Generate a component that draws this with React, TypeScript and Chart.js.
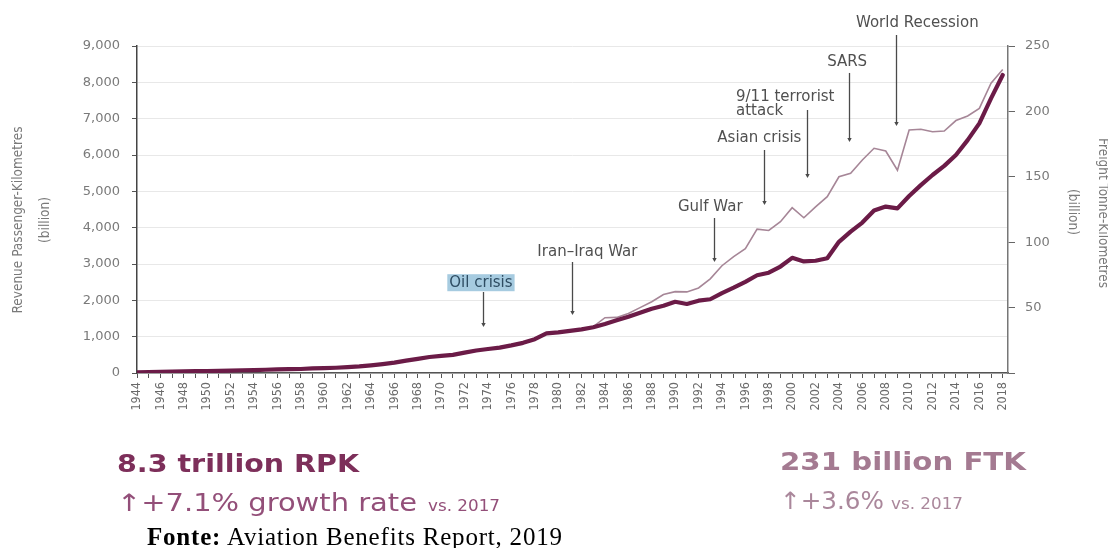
import React, { useEffect, useRef } from 'react';
import { Chart, registerables } from 'chart.js';

Chart.register(...registerables);

// ---------- data ----------
const years: number[] = Array.from({ length: 75 }, (_, i) => 1944 + i);

// Revenue Passenger-Kilometres (billion), left axis
const rpk: number[] = [
  20, 25, 35, 40, 45, 50, 55, 60, 65, 75,
  80, 90, 100, 105, 110, 125, 135, 145, 160, 180,
  210, 245, 285, 340, 390, 440, 470, 500, 560, 620,
  660, 700, 760, 830, 930, 1090, 1120, 1160, 1200, 1260,
  1350, 1450, 1550, 1660, 1770, 1850, 1960, 1900, 1990, 2030,
  2200, 2350, 2510, 2690, 2760, 2930, 3170, 3070, 3090, 3160,
  3610, 3890, 4140, 4470, 4580, 4530, 4870, 5170, 5450, 5700,
  6000, 6410, 6870, 7560, 8200,
];

// Freight Tonne-Kilometres (billion), right axis
const ftk: number[] = [
  0.5, 0.7, 1.0, 1.1, 1.2, 1.4, 1.5, 1.7, 1.8, 2.0,
  2.2, 2.5, 2.7, 2.9, 3.0, 3.4, 3.7, 4.0, 4.5, 5.0,
  5.9, 6.9, 8.0, 9.5, 11.0, 12.4, 13.3, 14.0, 15.8, 17.5,
  18.6, 19.5, 21.2, 23.2, 26.0, 30.5, 31.0, 32.0, 33.0, 35.5,
  42.3, 42.5, 45.5, 50.0, 54.5, 60.0, 62.2, 62.0, 65.0, 72.0,
  82.0, 89.0, 95.0, 110.0, 109.0, 115.7, 126.4, 118.7, 127.0, 134.8,
  150.0, 152.7, 162.8, 171.8, 169.7, 155.0, 185.8, 186.3, 184.5, 185.0,
  193.0, 196.5, 202.3, 221.5, 232.0,
];

// event annotations
const eventLabels: string[] = [
  'Oil crisis', 'Iran–Iraq War', 'Gulf War', 'Asian crisis',
  '9/11 terrorist\nattack', 'SARS', 'World Recession',
];
const eventYears: number[] = [1973.6, 1981.2, 1993.3, 1997.6, 2001.3, 2004.9, 2008.9];

// annotation placement (in axis units)
const labelYears: number[] = [1973.4, 1982.5, 1993.0, 1997.2, 1995.2, 2004.7, 2010.7];
const labelValues: number[] = [2485, 3330, 4570, 6470, 7597, 8560, 9634];
const labelAligns: CanvasTextAlign[] = ['center', 'center', 'center', 'center', 'left', 'center', 'center'];
const arrowTops: number[] = [2230, 3055, 4266, 6138, 7239, 8258, 9303];
const arrowBottoms: number[] = [1266, 1596, 3055, 4624, 5367, 6358, 6799];

const COND = '"DejaVu Sans Condensed", "Liberation Sans Narrow", "DejaVu Sans", sans-serif';
const SANS = '"DejaVu Sans", sans-serif';

export default function App() {
  const ref = useRef<HTMLCanvasElement>(null);

  useEffect(() => {
    const canvas = ref.current;
    if (!canvas) return;

    const annotations = {
      id: 'eventsAndTitles',
      afterDraw(chart: any) {
        const { ctx } = chart;
        const xs = chart.scales.x;
        const ys = chart.scales.y;
        ctx.save();
        eventLabels.forEach((lab, i) => {
          const ax = Math.round(xs.getPixelForValue(eventYears[i])) + 0.5;
          const top = ys.getPixelForValue(arrowTops[i]);
          const bot = ys.getPixelForValue(arrowBottoms[i]);
          ctx.strokeStyle = '#4a4a4a';
          ctx.fillStyle = '#4a4a4a';
          ctx.lineWidth = 1.3;
          ctx.beginPath();
          ctx.moveTo(ax, top);
          ctx.lineTo(ax, bot - 3);
          ctx.stroke();
          ctx.beginPath();
          ctx.moveTo(ax - 2.2, bot - 4);
          ctx.lineTo(ax + 2.2, bot - 4);
          ctx.lineTo(ax, bot);
          ctx.closePath();
          ctx.fill();

          const lines = lab.split('\n');
          const tx = xs.getPixelForValue(labelYears[i]);
          const ty = ys.getPixelForValue(labelValues[i]);
          ctx.font = '15px ' + SANS;
          ctx.textBaseline = 'middle';
          ctx.textAlign = labelAligns[i];
          if (i === 0) {
            const w = ctx.measureText(lab).width;
            ctx.fillStyle = '#a6cbe0';
            ctx.fillRect(tx - w / 2 - 2, ty - 8.5, w + 4, 17);
            ctx.fillStyle = '#2e4c62';
          } else {
            ctx.fillStyle = '#505050';
          }
          lines.forEach((ln, k) => ctx.fillText(ln, tx, ty + k * 14));
        });

        // axis titles
        ctx.fillStyle = '#7a7a7a';
        ctx.font = '13.5px ' + COND;
        ctx.textAlign = 'center';
        ctx.textBaseline = 'middle';
        const rot = (x: number, y: number, a: number, t: string) => {
          ctx.save();
          ctx.translate(x, y);
          ctx.rotate(a);
          ctx.fillText(t, 0, 0);
          ctx.restore();
        };
        rot(18, 220, -Math.PI / 2, 'Revenue Passenger-Kilometres');
        rot(45, 220, -Math.PI / 2, '(billion)');
        rot(1102, 213, Math.PI / 2, 'Freight Tonne-Kilometres');
        rot(1072, 212, Math.PI / 2, '(billion)');
        ctx.restore();
      },
    };

    const chart = new Chart(canvas, {
      type: 'line',
      data: {
        datasets: [
          {
            label: 'RPK',
            data: years.map((y, i) => ({ x: y, y: rpk[i] })),
            yAxisID: 'y',
            borderColor: '#6b1b47',
            borderWidth: 4.2,
            pointRadius: 0,
            tension: 0,
            borderJoinStyle: 'round',
            borderCapStyle: 'round',
          },
          {
            label: 'FTK',
            data: years.map((y, i) => ({ x: y, y: ftk[i] })),
            yAxisID: 'y2',
            borderColor: '#a68697',
            borderWidth: 1.6,
            pointRadius: 0,
            tension: 0,
          },
        ],
      },
      options: {
        responsive: false,
        animation: false,
        devicePixelRatio: 1,
        layout: { padding: { top: 46, left: 0, right: 0, bottom: 0 } },
        plugins: { legend: { display: false }, tooltip: { enabled: false } },
        scales: {
          x: {
            type: 'linear',
            min: 1944,
            max: 2018.45,
            afterFit: (s: any) => { s.height = 47; },
            grid: { drawOnChartArea: false, tickLength: 5, tickColor: '#555', tickWidth: 1 },
            border: { color: '#555', width: 1.5 },
            ticks: {
              stepSize: 1,
              includeBounds: false,
              autoSkip: false,
              maxRotation: 90,
              minRotation: 90,
              padding: 4,
              color: '#6a6a6a',
              font: { family: COND, size: 12.5 },
              callback: (v: any) => (Number(v) % 2 === 0 ? String(v) : ''),
            },
          },
          y: {
            position: 'left',
            min: 0,
            max: 9000,
            afterFit: (s: any) => { s.width = 137; },
            grid: { color: '#e8e8e8', tickLength: 5, tickColor: '#555' },
            border: { color: '#444', width: 1.5 },
            ticks: {
              stepSize: 1000,
              padding: 12,
              color: '#7a7a7a',
              font: { family: SANS, size: 13 },
              callback: (v: any) => Number(v).toLocaleString('en-US'),
            },
          },
          y2: {
            position: 'right',
            min: 0,
            max: 250,
            afterFit: (s: any) => { s.width = 100; },
            grid: { drawOnChartArea: false, tickLength: 7, tickColor: '#666' },
            border: { color: '#777', width: 1.5 },
            ticks: {
              stepSize: 50,
              padding: 10,
              color: '#7a7a7a',
              font: { family: SANS, size: 13 },
              callback: (v: any) => (Number(v) === 0 ? '' : String(v)),
            },
          },
        },
      },
      plugins: [annotations],
    } as any);

    return () => chart.destroy();
  }, []);

  const big = '"DejaVu Sans", sans-serif';
  return (
    <div style={{ position: 'absolute', left: 0, top: 0, width: 1108, height: 548, background: '#fff' }}>
      <canvas ref={ref} width={1108} height={420} style={{ position: 'absolute', left: 0, top: 0 }} />
      <svg width={1108} height={548} style={{ position: 'absolute', left: 0, top: 0, pointerEvents: 'none' }}>
        <text x={117} y={472} fontFamily={big} fontWeight="bold" fontSize={25} fill="#7d2f5a" textLength={242} lengthAdjust="spacingAndGlyphs">8.3 trillion RPK</text>
        <text x={117} y={511} fontFamily={big} fontSize={24} fill="#934f79" textLength={300} lengthAdjust="spacingAndGlyphs">↑+7.1% growth rate</text>
        <text x={428} y={511} fontFamily={big} fontSize={15} fill="#934f79" textLength={72} lengthAdjust="spacingAndGlyphs">vs. 2017</text>
        <text x={780} y={470} fontFamily={big} fontWeight="bold" fontSize={25} fill="#a47a91" textLength={246} lengthAdjust="spacingAndGlyphs">231 billion FTK</text>
        <text x={780} y={509} fontFamily={big} fontSize={24} fill="#aa879b" textLength={104} lengthAdjust="spacingAndGlyphs">↑+3.6%</text>
        <text x={891} y={509} fontFamily={big} fontSize={15} fill="#aa879b" textLength={72} lengthAdjust="spacingAndGlyphs">vs. 2017</text>
        <text x={147} y={545} fontFamily={'"Liberation Serif", "Times New Roman", serif'} fontSize={25} fill="#000" textLength={415} lengthAdjust="spacing">
          <tspan fontWeight="bold">Fonte:</tspan> Aviation Benefits Report, 2019
        </text>
      </svg>
    </div>
  );
}
